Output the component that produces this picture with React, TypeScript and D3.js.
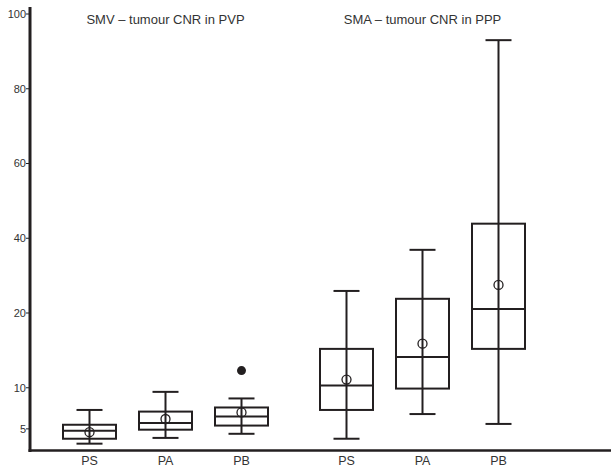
import React from "react";
import * as d3 from "d3";

const groups = ["SMV", "SMA"];
const groupTitles = ["SMV – tumour CNR in PVP", "SMA – tumour CNR in PPP"];
const protocols = ["PS", "PA", "PB"];
const yTicks = [5, 10, 20, 40, 60, 80, 100];

// per box: [group, protocol]
const boxGroup = ["SMV", "SMV", "SMV", "SMA", "SMA", "SMA"];
const boxProtocol = ["PS", "PA", "PB", "PS", "PA", "PB"];
const whiskerLow = [3.2, 3.9, 4.4, 3.8, 6.8, 5.6];
const q1 = [3.8, 4.9, 5.4, 7.3, 9.9, 15.2];
const median = [4.76, 5.7, 6.5, 10.3, 14.1, 21.1];
const q3 = [5.5, 7.1, 7.6, 15.2, 23.8, 43.9];
const whiskerHigh = [7.3, 9.5, 8.7, 25.9, 36.9, 93];
const mean = [4.6, 6.2, 7.0, 11.1, 15.9, 27.5];
const outlierBox = [2];
const outlierValue = [12.3];

const W = 611;
const H = 466;
const ink = "#231f20";

export default function App() {
  const top = 14;
  const step = 74.75;
  const y = d3
    .scaleLinear()
    .domain(yTicks)
    .range([top + 5.55 * step, top + 5 * step, top + 4 * step, top + 3 * step, top + 2 * step, top + step, top]);

  const axisX = 30;
  const axisY = 450.5;
  const gx = d3.scaleBand().domain(groups).range([37, 551]).padding(0);
  const px = d3.scalePoint().domain(protocols).range([-76, 76]);
  const cx = (i: number) => (gx(boxGroup[i]) as number) + gx.bandwidth() / 2 + (px(boxProtocol[i]) as number);

  const boxW = 53;
  const capW = 26;

  return (
    <svg width={W} height={H} style={{ position: "absolute", left: 0, top: 0, background: "#fff" }} fontFamily="Liberation Sans, Arial, sans-serif">
      {/* axes */}
      <line x1={axisX} x2={axisX} y1={7} y2={axisY + 1.5} stroke={ink} strokeWidth={3} />
      <line x1={axisX - 1.5} x2={W} y1={axisY} y2={axisY} stroke={ink} strokeWidth={2.5} />
      {yTicks.map((t) => (
        <g key={t}>
          <line x1={axisX - 4} x2={axisX} y1={y(t)} y2={y(t)} stroke={ink} strokeWidth={1} />
          <text x={axisX - 4} y={y(t)} dy="0.35em" textAnchor="end" fontSize={11} fill="#333">
            {t}
          </text>
        </g>
      ))}
      {/* group titles */}
      {groups.map((g, gi) => (
        <text key={g} x={(gx(g) as number) + gx.bandwidth() / 2} y={24} textAnchor="middle" fontSize={13} fill="#333">
          {groupTitles[gi]}
        </text>
      ))}
      {/* x labels */}
      {boxProtocol.map((p, i) => (
        <text key={"xl" + i} x={cx(i)} y={axisY + 14} textAnchor="middle" fontSize={12.5} fill="#333">
          {p}
        </text>
      ))}
      {/* boxes */}
      {boxProtocol.map((p, i) => {
        const x = cx(i);
        return (
          <g key={"b" + i} stroke={ink} strokeWidth={2} fill="none">
            <line x1={x} x2={x} y1={y(whiskerHigh[i])} y2={y(whiskerLow[i])} />
            <line x1={x - capW / 2} x2={x + capW / 2} y1={y(whiskerHigh[i])} y2={y(whiskerHigh[i])} />
            <line x1={x - capW / 2} x2={x + capW / 2} y1={y(whiskerLow[i])} y2={y(whiskerLow[i])} />
            <rect x={x - boxW / 2} y={y(q3[i])} width={boxW} height={y(q1[i]) - y(q3[i])} fill="none" />
            <line x1={x - boxW / 2} x2={x + boxW / 2} y1={y(median[i])} y2={y(median[i])} />
            <circle cx={x} cy={y(mean[i])} r={4.5} strokeWidth={1.3} />
          </g>
        );
      })}
      {outlierBox.map((b, k) => (
        <circle key={"o" + k} cx={cx(b)} cy={y(outlierValue[k])} r={4.5} fill={ink} />
      ))}
    </svg>
  );
}
